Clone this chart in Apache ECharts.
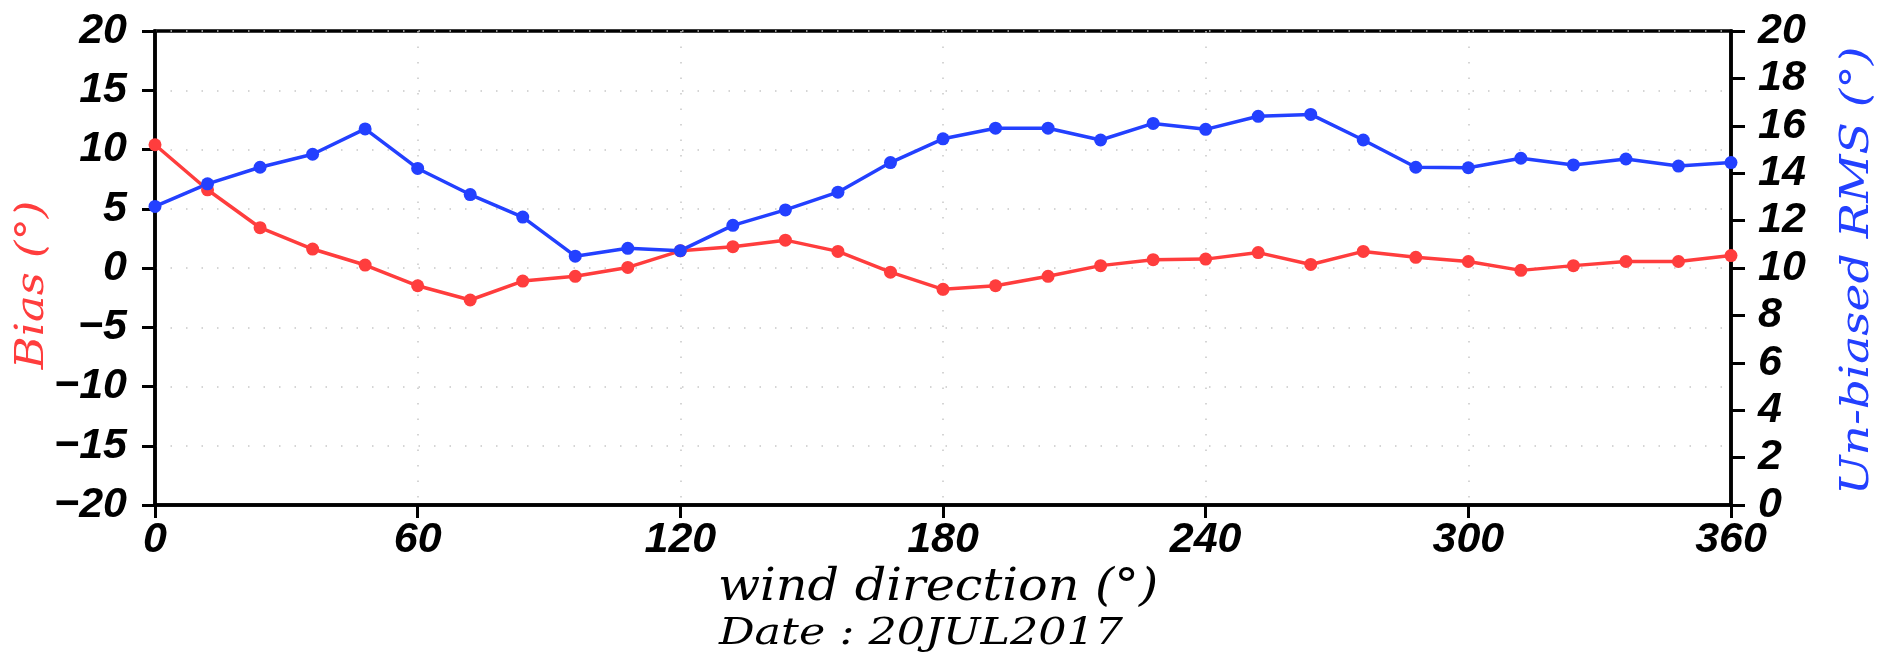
<!DOCTYPE html>
<html>
<head>
<meta charset="utf-8">
<script src="https://cdn.jsdelivr.net/npm/echarts@6/dist/echarts.min.js"></script>
<style>
html,body{margin:0;padding:0;background:#fff;}
#chart{width:1890px;height:660px;}
</style>
</head>
<body>
<div id="chart"></div>
<script>
// wind direction (degrees)
var directions = [0, 12, 24, 36, 48, 60, 72, 84, 96, 108, 120, 132, 144, 156, 168, 180,
  192, 204, 216, 228, 240, 252, 264, 276, 288, 300, 312, 324, 336, 348, 360];
// Bias (deg), left axis
var biasValues = [10.4, 6.6, 3.4, 1.6, 0.25, -1.5, -2.7, -1.1, -0.7, 0.05, 1.45, 1.8, 2.35, 1.4, -0.35, -1.8,
  -1.5, -0.7, 0.2, 0.7, 0.75, 1.3, 0.3, 1.4, 0.9, 0.55, -0.2, 0.2, 0.55, 0.55, 1.05];
// Un-biased RMS (deg), right axis
var rmsValues = [12.6, 13.55, 14.25, 14.8, 15.87, 14.2, 13.1, 12.15, 10.5, 10.83, 10.73, 11.8, 12.45, 13.2, 14.45, 15.45,
  15.9, 15.9, 15.4, 16.1, 15.85, 16.4, 16.48, 15.4, 14.25, 14.23, 14.63, 14.35, 14.6, 14.3, 14.45];

var xTicks = [0, 60, 120, 180, 240, 300, 360];
var biasTicks = [-20, -15, -10, -5, 0, 5, 10, 15, 20];
var rmsTicks = [0, 2, 4, 6, 8, 10, 12, 14, 16, 18, 20];

var xAxisTitle = 'wind direction (°)';
var leftTitle = 'Bias (°)';
var rightTitle = 'Un-biased RMS (°)';
var dateText = 'Date : 20JUL2017';

var RED = '#ff3d3d';
var BLUE = '#2340ff';
var tickFont = {fontFamily: 'Liberation Sans', fontStyle: 'italic', fontWeight: 'bold', fontSize: 43, color: '#000'};

function pairs(xs, ys) { return xs.map(function (x, i) { return [x, ys[i]]; }); }
function minusFmt(v) { return String(v).replace('-', '\u2212'); }

var chart = echarts.init(document.getElementById('chart'), null, {renderer: 'canvas'});
chart.setOption({
  animation: false,
  backgroundColor: '#fff',
  grid: {left: 155, right: 159, top: 31, bottom: 155, show: true, borderColor: '#000', borderWidth: 3.5, backgroundColor: 'transparent'},
  xAxis: {
    type: 'value', min: xTicks[0], max: xTicks[xTicks.length - 1], interval: 60,
    axisLine: {show: true, onZero: false, lineStyle: {color: '#000', width: 3.5}},
    axisTick: {show: true, inside: false, length: 13, lineStyle: {color: '#000', width: 3}},
    axisLabel: Object.assign({margin: 14, formatter: minusFmt}, tickFont),
    splitLine: {show: true, lineStyle: {color: '#c8c8c8', width: 1.5, type: [1.5, 14]}}
  },
  yAxis: [{
    type: 'value', min: biasTicks[0], max: biasTicks[biasTicks.length - 1], interval: 5, position: 'left',
    axisLine: {show: true, onZero: false, lineStyle: {color: '#000', width: 3.5}},
    axisTick: {show: true, inside: false, length: 13, lineStyle: {color: '#000', width: 3}},
    axisLabel: Object.assign({margin: 28, formatter: minusFmt}, tickFont),
    splitLine: {show: true, lineStyle: {color: '#c8c8c8', width: 1.5, type: [1.5, 14]}}
  }, {
    type: 'value', min: rmsTicks[0], max: rmsTicks[rmsTicks.length - 1], interval: 2, position: 'right',
    axisLine: {show: true, onZero: false, lineStyle: {color: '#000', width: 3.5}},
    axisTick: {show: true, inside: false, length: 14, lineStyle: {color: '#000', width: 3}},
    axisLabel: Object.assign({margin: 27, formatter: minusFmt}, tickFont),
    splitLine: {show: false}
  }],
  series: [{
    name: 'Bias', type: 'line', yAxisIndex: 0, data: pairs(directions, biasValues),
    symbol: 'circle', symbolSize: 13, showAllSymbol: true,
    lineStyle: {color: RED, width: 3.5}, itemStyle: {color: RED}
  }, {
    name: 'RMS', type: 'line', yAxisIndex: 1, data: pairs(directions, rmsValues),
    symbol: 'circle', symbolSize: 13, showAllSymbol: true,
    lineStyle: {color: BLUE, width: 3.5}, itemStyle: {color: BLUE}
  }],
  graphic: [{
    type: 'text', x: 33, y: 285, rotation: Math.PI / 2, scaleX: 1.12,
    style: {text: leftTitle, fill: RED, font: 'italic 40px "DejaVu Serif"', textAlign: 'center', textVerticalAlign: 'middle'}
  }, {
    type: 'text', x: 1858, y: 271, rotation: Math.PI / 2, scaleX: 1.18,
    style: {text: rightTitle, fill: BLUE, font: 'italic 40px "DejaVu Serif"', textAlign: 'center', textVerticalAlign: 'middle'}
  }, {
    type: 'text', x: 938, y: 589, scaleX: 1.12,
    style: {text: xAxisTitle, fill: '#000', font: 'italic 44px "DejaVu Serif"', textAlign: 'center', textVerticalAlign: 'middle'}
  }, {
    type: 'text', x: 921, y: 634, scaleX: 1.17,
    style: {text: dateText, fill: '#000', font: 'italic 38px "DejaVu Serif"', textAlign: 'center', textVerticalAlign: 'middle'}
  }]
});
</script>
</body>
</html>
